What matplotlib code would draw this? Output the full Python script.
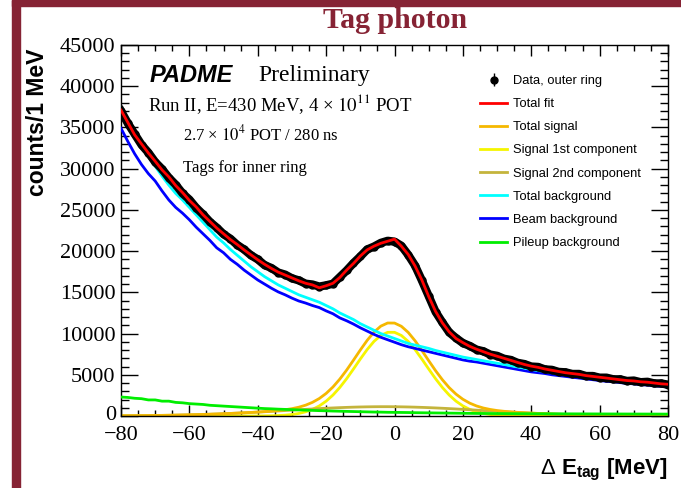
import numpy as np
import matplotlib.pyplot as plt
from matplotlib.patches import Rectangle
from matplotlib.ticker import MultipleLocator, FuncFormatter

plt.rcParams['font.family'] = 'Liberation Serif'
plt.rcParams['mathtext.fontset'] = 'custom'
plt.rcParams['mathtext.rm'] = 'Liberation Sans'
plt.rcParams['mathtext.bf'] = 'Liberation Sans:bold'

# bin centres, MeV
e_tag = np.arange(-80, 81, 2)

data = [37000, 35500, 34200, 32900, 31950, 30800, 29950, 28900, 28050, 27000,
        26250, 25250, 24450, 23550, 22850, 22050, 21500, 20750, 20200, 19500,
        19000, 18300, 17950, 17400, 17150, 16700, 16450, 16050, 15950, 15700,
        15850, 16050, 16850, 17650, 18550, 19350, 20200, 20550, 21000, 21250,
        21150, 20650, 19550, 18250, 16450, 14550, 12650, 11350, 10150, 9450,
        8850, 8500, 8050, 7850, 7450, 7300, 6950, 6800, 6450, 6300,
        6000, 5950, 5650, 5600, 5350, 5300, 5100, 5100, 4850, 4850,
        4650, 4650, 4450, 4450, 4250, 4300, 4100, 4150, 3950, 3950, 3800]
total_fit = [37100, 35600, 34100, 33000, 31900, 30900, 29850, 29000, 27950, 27100,
             26150, 25350, 24400, 23600, 22800, 22100, 21400, 20800, 20150, 19550,
             18950, 18400, 17900, 17450, 17100, 16750, 16400, 16100, 15900, 15550,
             15800, 16100, 16800, 17700, 18500, 19400, 20150, 20600, 20950, 21200,
             21450, 20600, 19600, 18200, 16500, 14500, 12700, 11300, 10200, 9400,
             8900, 8450, 8100, 7800, 7500, 7250, 7000, 6750, 6500, 6250,
             6050, 5900, 5700, 5550, 5400, 5250, 5150, 5050, 4900, 4800,
             4700, 4600, 4500, 4400, 4300, 4250, 4150, 4100, 4000, 3900, 3850]
total_signal = [26, 31, 38, 45, 54, 65, 76, 90, 105, 123,
                142, 164, 188, 215, 244, 276, 311, 349, 389, 431,
                479, 531, 592, 666, 761, 890, 1065, 1313, 1656, 2120,
                2738, 3520, 4475, 5571, 6773, 8005, 9172, 10174, 10900, 11280,
                11274, 10882, 10145, 9133, 7956, 6715, 5504, 4400, 3439, 2651,
                2029, 1561, 1216, 968, 792, 664, 571, 500, 442, 394,
                351, 312, 277, 244, 215, 188, 164, 142, 123, 105,
                90, 76, 65, 54, 45, 38, 31, 26, 21, 17, 14]
signal_1st = [0] * 17 + [1, 2, 3, 7, 14, 28, 54, 100, 180, 307,
                         506, 803, 1222, 1798, 2541, 3460, 4525, 5700, 6910, 8060,
                         9050, 9770, 10150, 10150, 9770, 9050, 8060, 6910, 5700, 4525,
                         3460, 2541, 1798, 1222, 803, 506, 307, 180, 100, 54,
                         28, 14, 7, 3, 2, 1] + [0] * 18
signal_2nd = [26, 31, 38, 45, 54, 65, 76, 90, 105, 123,
              142, 164, 188, 215, 244, 276, 311, 348, 387, 428,
              472, 517, 564, 612, 661, 710, 758, 807, 853, 898,
              940, 979, 1015, 1046, 1073, 1095, 1112, 1124, 1130, 1130,
              1124, 1112, 1095, 1073, 1046, 1015, 979, 940, 898, 853,
              807, 758, 710, 661, 612, 564, 517, 472, 428, 387,
              348, 311, 276, 244, 215, 188, 164, 142, 123, 105,
              90, 76, 65, 54, 45, 38, 31, 26, 21, 17, 14]
total_bkg = [37400, 35700, 34100, 32700, 31500, 30300, 29100, 28000, 27000, 26200,
             25300, 24400, 23500, 22600, 21700, 21000, 20200, 19500, 18800, 18100,
             17500, 16900, 16400, 15900, 15500, 15100, 14700, 14400, 14100, 13800,
             13400, 13000, 12500, 12100, 11700, 11200, 10800, 10400, 10000, 9700,
             9400, 9100, 8800, 8600, 8400, 8200, 7950, 7750, 7550, 7350,
             7150, 7000, 6850, 6700, 6550, 6400, 6250, 6100, 5950, 5800,
             5650, 5500, 5400, 5250, 5150, 5050, 4950, 4850, 4750, 4650,
             4550, 4450, 4400, 4300, 4200, 4150, 4050, 4000, 3900, 3850, 3750]
beam_bkg = [34900, 33300, 31800, 30500, 29400, 28500, 27300, 26200, 25300, 24600,
            23800, 22900, 22100, 21300, 20400, 19800, 19000, 18400, 17700, 17100,
            16500, 16000, 15500, 15050, 14700, 14300, 13950, 13700, 13400, 13150,
            12750, 12400, 11900, 11550, 11150, 10700, 10300, 9900, 9550, 9250,
            8950, 8650, 8400, 8200, 8000, 7800, 7600, 7400, 7200, 7000,
            6800, 6650, 6550, 6400, 6250, 6100, 5950, 5800, 5650, 5500,
            5350, 5250, 5150, 5000, 4900, 4800, 4700, 4600, 4500, 4400,
            4300, 4200, 4150, 4050, 3950, 3900, 3800, 3750, 3650, 3600, 3500]
pileup_bkg = [2300, 2250, 2150, 2100, 1950, 1950, 1800, 1800, 1650, 1600,
              1500, 1450, 1400, 1300, 1250, 1200, 1150, 1100, 1050, 1000,
              950, 900, 870, 830, 800, 770, 740, 710, 680, 650,
              630, 600, 580, 560, 540, 520, 500, 480, 470, 450,
              440, 430, 420, 400, 390, 380, 370, 360, 350, 340,
              330, 320, 310, 305, 300, 295, 290, 285, 280, 278,
              275, 272, 270, 268, 265, 262, 260, 258, 255, 252,
              250, 248, 246, 244, 242, 240, 238, 236, 234, 232, 230]

W, H = 681, 488
fig = plt.figure(figsize=(W / 100, H / 100), dpi=100)
maroon = '#862334'
fig.patches.append(Rectangle((12 / W, 0), 8 / W, 1, transform=fig.transFigure,
                             color=maroon, zorder=0))
fig.patches.append(Rectangle((12 / W, 1 - 6 / H), 1 - 12 / W, 6 / H,
                             transform=fig.transFigure, color=maroon, zorder=0))
fig.text(395 / W, 1 - 20 / H, 'Tag photon', ha='center', va='center',
         fontsize=21.5, weight='bold', color=maroon)

ax = fig.add_axes([121 / W, 1 - 416 / H, 547 / W, 371 / H])

lw = 2.0
ax.plot(e_tag, signal_1st, color='#f5f500', lw=lw, label='Signal 1st component', zorder=2)
ax.plot(e_tag, signal_2nd, color='#c4b43c', lw=lw, label='Signal 2nd component', zorder=2)
ax.plot(e_tag, total_signal, color='#f5b800', lw=lw, label='Total signal', zorder=2)
ax.plot(e_tag, beam_bkg, color='#0000ff', lw=lw, label='Beam background', zorder=3)
ax.plot(e_tag, total_bkg, color='#00ffff', lw=lw, label='Total background', zorder=3)
ax.plot(e_tag, pileup_bkg, color='#00ee00', lw=lw, label='Pileup background', zorder=3)
ax.plot(e_tag, data, color='black', lw=6, zorder=4)
eb = ax.errorbar(e_tag, data, yerr=np.sqrt(data), fmt='o', color='black', ms=5,
                 elinewidth=1, capsize=0, label='Data, outer ring', zorder=4)
ax.plot(e_tag, total_fit, color='#ff0000', lw=lw, label='Total fit', zorder=5)

ax.set_xlim(-80, 80)
ax.set_ylim(0, 45000)
ax.xaxis.set_major_locator(MultipleLocator(20))
ax.xaxis.set_minor_locator(MultipleLocator(5))
ax.yaxis.set_major_locator(MultipleLocator(5000))
ax.yaxis.set_minor_locator(MultipleLocator(1000))
# the 0 label is drawn by hand a bit higher, as ROOT does
ax.yaxis.set_major_formatter(FuncFormatter(lambda v, p: '' if v == 0 else '%d' % v))
ax.tick_params(axis='both', which='both', direction='in', top=True, right=True,
               labelsize=16, width=1)
ax.tick_params(axis='x', which='major', length=8, pad=7)
ax.tick_params(axis='x', which='minor', length=4)
ax.tick_params(axis='y', which='major', length=12, pad=4)
ax.tick_params(axis='y', which='minor', length=6)
for s in ax.spines.values():
    s.set_linewidth(1)
ax.text(-5 / 547, -4 / 371, '0', transform=ax.transAxes, ha='right', va='baseline',
        fontsize=16)

fig.text(38 / W, 1 - 122 / H, 'counts/1 MeV', rotation=90, ha='center', va='center',
         fontsize=16.5, weight='bold', family='Liberation Sans')
fig.text(668 / W, 1 - 470 / H, r'$\Delta$ $\mathbf{E_{tag}}$ [MeV]', ha='right',
         va='center', fontsize=16, weight='bold', family='Liberation Sans')

fig.text(150 / W, 1 - 75 / H, 'PADME', ha='left', va='center', fontsize=17,
         weight='bold', style='italic', family='Liberation Sans')
fig.text(258 / W, 1 - 75 / H, 'Preliminary', ha='left', va='center', fontsize=17)
fig.text(148 / W, 1 - 104 / H, r'Run II, E=430 MeV, 4 × $10^{11}$ POT', ha='left',
         va='center', fontsize=13.5, math_fontfamily='stix')
fig.text(183 / W, 1 - 134 / H, r'2.7 × $10^{4}$ POT / 280 ns', ha='left',
         va='center', fontsize=12, math_fontfamily='stix')
fig.text(183 / W, 1 - 168 / H, 'Tags for inner ring', ha='left', va='center',
         fontsize=12)

order = ['Data, outer ring', 'Total fit', 'Total signal', 'Signal 1st component',
         'Signal 2nd component', 'Total background', 'Beam background',
         'Pileup background']
handles, labels = ax.get_legend_handles_labels()
hmap = dict(zip(labels, handles))
ax.legend([hmap[k] for k in order], order, loc='upper left',
          bbox_to_anchor=(480 / W, 1 - 75 / H), bbox_transform=fig.transFigure,
          frameon=False, borderpad=0, borderaxespad=0, handlelength=2.1,
          handletextpad=0.45, labelspacing=0.86,
          prop={'family': 'Liberation Sans', 'size': 9.3})

fig.savefig('out.png', dpi=100)
